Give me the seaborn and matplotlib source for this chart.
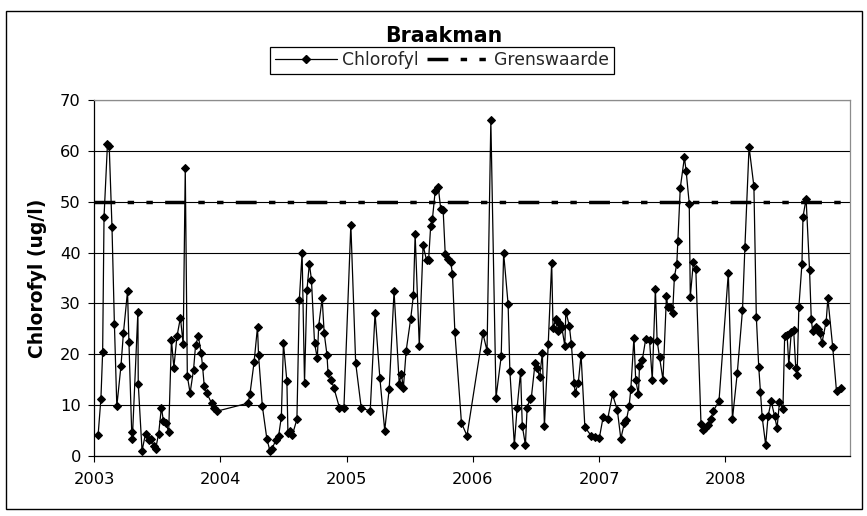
import numpy as np
import pandas as pd
import matplotlib
matplotlib.use("Agg")
import matplotlib.pyplot as plt
from matplotlib.lines import Line2D
from matplotlib.patches import Rectangle
import seaborn as sns

# Sample days (day of year) and chlorophyll concentration (ug/l) per year
doy_2003 = [13, 21, 26, 30, 40, 45, 53, 60, 67, 79, 86, 98, 102, 110, 112, 128, 129, 140, 150, 160,
            167, 174, 179, 188, 196, 202, 209, 217, 225, 232, 241, 251, 259, 265, 271, 279, 289, 295,
            303, 311, 315, 320, 327, 341, 349, 356]
chl_2003 = [4.2, 11.3, 20.4, 47.0, 61.4, 60.9, 45.1, 26.0, 9.8, 17.7, 24.1, 32.4, 22.5, 4.8, 3.4,
            28.4, 14.2, 1.0, 4.4, 3.1, 3.3, 2.0, 1.3, 4.4, 9.5, 6.8, 6.5, 4.7, 22.8, 17.4, 23.5, 27.2,
            22.0, 56.6, 15.7, 12.4, 17.0, 21.9, 23.5, 20.2, 17.7, 13.7, 12.4, 10.4, 9.5, 8.8]

doy_2004 = [82, 87, 99, 109, 112, 123, 136, 145, 150, 162, 170, 178, 184, 194, 197, 204, 210, 223,
            230, 238, 245, 252, 259, 265, 274, 282, 286, 296, 302, 310, 313, 322, 330, 346, 359]
chl_2004 = [10.4, 12.1, 18.4, 25.4, 19.8, 9.8, 3.4, 1.0, 1.3, 3.1, 3.9, 7.7, 22.2, 14.7, 4.6, 4.9,
            4.2, 7.2, 30.7, 39.9, 14.4, 32.6, 37.8, 34.7, 22.2, 19.2, 25.6, 31.0, 24.1, 19.9, 16.3,
            15.0, 13.4, 9.5, 9.5]

doy_2005 = [13, 27, 43, 69, 83, 97, 111, 124, 138, 153, 159, 165, 173, 186, 194, 199, 211, 222,
            232, 238, 244, 249, 257, 266, 273, 280, 286, 295, 302, 307, 314, 333, 349]
chl_2005 = [45.5, 18.3, 9.5, 8.8, 28.1, 15.3, 5.0, 13.2, 32.4, 14.2, 16.2, 13.4, 20.7, 26.9, 31.6,
            43.6, 21.7, 41.4, 38.5, 38.6, 45.3, 46.6, 52.1, 52.8, 48.6, 48.4, 39.8, 38.8, 38.2, 35.7,
            24.3, 6.5, 4.0]

doy_2006 = [30, 42, 53, 68, 83, 90, 103, 108, 121, 129, 139, 144, 153, 158, 166, 170, 181, 187,
            194, 202, 208, 219, 229, 233, 241, 246, 251, 258, 267, 270, 280, 286, 294, 297, 306,
            314, 325, 343, 355]
chl_2006 = [24.1, 20.7, 66.0, 11.5, 19.6, 39.9, 29.8, 16.8, 2.2, 9.5, 16.5, 5.9, 2.2, 9.5, 11.2,
            11.4, 18.3, 17.4, 15.5, 20.2, 5.9, 22.0, 38.0, 25.1, 27.0, 24.5, 26.1, 25.4, 21.7, 28.4,
            25.6, 22.0, 14.4, 12.4, 14.4, 19.9, 5.7, 4.0, 3.8]

doy_2007 = [2, 13, 26, 40, 54, 64, 74, 80, 88, 93, 102, 107, 115, 118, 126, 136, 147, 155, 164,
            169, 176, 186, 196, 200, 207, 214, 219, 226, 229, 236, 248, 253, 262, 265, 274, 281,
            296, 301, 307, 317, 325, 331, 348]
chl_2007 = [3.6, 7.7, 7.3, 12.1, 9.0, 3.4, 6.4, 7.0, 9.8, 13.2, 23.3, 15.0, 12.1, 17.6, 18.8, 23.0,
            22.8, 15.0, 32.9, 22.7, 19.4, 15.0, 31.4, 29.2, 29.2, 28.2, 35.2, 37.8, 42.3, 52.7, 58.7,
            56.0, 49.6, 31.3, 38.2, 36.7, 6.2, 5.2, 5.5, 6.0, 7.2, 8.8, 10.8]

doy_2008 = [10, 22, 36, 51, 58, 70, 84, 91, 98, 103, 108, 118, 125, 134, 144, 151, 158, 168, 173,
            180, 185, 192, 199, 205, 209, 214, 223, 226, 235, 245, 250, 254, 264, 269, 274, 281,
            293, 298, 312, 323, 336]
chl_2008 = [36.0, 7.3, 16.4, 28.7, 41.1, 60.8, 53.0, 27.4, 17.5, 12.5, 7.6, 2.2, 7.8, 10.8, 7.8,
            5.5, 10.6, 9.3, 23.6, 23.8, 17.9, 24.3, 24.7, 17.4, 16.0, 29.2, 37.8, 47.0, 50.6, 36.5,
            26.9, 24.5, 25.4, 24.9, 24.1, 22.3, 26.4, 31.0, 21.4, 12.7, 13.4]

# Limit value for chlorophyll (ug/l) over the whole monitoring period
grens_dates = ["2003-01-01", "2008-12-27"]
grens_values = [50.0, 50.0]

years = [2003, 2004, 2005, 2006, 2007, 2008]
year_labels = ["2003", "2004", "2005", "2006", "2007", "2008"]
y_ticks = [0, 10, 20, 30, 40, 50, 60, 70]


def to_dates(year, days):
    return pd.Timestamp(f"{year}-01-01") + pd.to_timedelta(np.asarray(days) - 1, unit="D")


frames = []
for yr, days, vals in [(2003, doy_2003, chl_2003), (2004, doy_2004, chl_2004),
                       (2005, doy_2005, chl_2005), (2006, doy_2006, chl_2006),
                       (2007, doy_2007, chl_2007), (2008, doy_2008, chl_2008)]:
    frames.append(pd.DataFrame({"datum": to_dates(yr, days), "chlorofyl": vals}))
df = pd.concat(frames, ignore_index=True)
grens = pd.DataFrame({"datum": pd.to_datetime(grens_dates), "grenswaarde": grens_values})

sns.set_theme(style="white")
plt.rcParams["font.family"] = ["DejaVu Sans"]

W, H = 867, 516
fig = plt.figure(figsize=(W / 100, H / 100), dpi=100)
fig.patch.set_facecolor("white")
ax = fig.add_axes([94 / W, 1 - 456 / H, (850 - 94) / W, (456 - 100) / H])
ax.set_facecolor("white")

# long dash - dot - dot, lengths in multiples of the line width
limit_style = (0, (6.0, 3.55, 1.85, 3.55, 1.85, 3.55))
limit_lw = 2.5
sns.lineplot(data=grens, x="datum", y="grenswaarde", ax=ax, color="black", linewidth=limit_lw,
             linestyle=limit_style, estimator=None, sort=False, legend=False, zorder=3)
sns.lineplot(data=df, x="datum", y="chlorofyl", ax=ax, color="black", linewidth=0.9,
             marker="D", markersize=4.4, markeredgecolor="black", markerfacecolor="black",
             estimator=None, sort=False, legend=False, zorder=4)

ax.set_ylim(0, 70)
ax.set_yticks(y_ticks)
ax.set_xlim(pd.Timestamp(grens_dates[0]), pd.Timestamp(grens_dates[1]))
ax.set_xticks([pd.Timestamp(f"{y}-01-01") for y in years])
ax.set_xticklabels(year_labels)

ax.yaxis.grid(True, color="black", linewidth=0.8)
ax.xaxis.grid(False)
ax.set_axisbelow(True)

for side in ("left", "bottom"):
    ax.spines[side].set_color("black")
    ax.spines[side].set_linewidth(0.9)
for side in ("top", "right"):
    ax.spines[side].set_color("#8c8c8c")
    ax.spines[side].set_linewidth(0.9)

ax.tick_params(axis="both", direction="out", length=4.5, width=0.8, color="black",
               labelsize=11.7, labelcolor="black")
ax.tick_params(axis="y", pad=5)
ax.tick_params(axis="x", pad=7)
ax.tick_params(left=True, bottom=True)

ax.set_xlabel("")
ax.set_ylabel("Chlorofyl (ug/l)", fontsize=13.5, fontweight="bold", color="black")
ax.yaxis.set_label_coords((47 - 94) / (850 - 94), 0.5)

fig.text(444 / W, 1 - 42 / H, "Braakman", ha="center", va="baseline",
         fontsize=14.8, fontweight="bold", color="black")

handles = [
    Line2D([], [], color="black", linewidth=0.9, marker="D", markersize=4.4),
    Line2D([], [], color="black", linewidth=limit_lw, linestyle=limit_style),
]
leg = fig.legend(handles, ["Chlorofyl", "Grenswaarde"], loc="upper center",
                 bbox_to_anchor=(442 / W, 1 - 47 / H), ncol=2, frameon=True, fancybox=False,
                 edgecolor="black", framealpha=1, fontsize=12.4, handlelength=3.6,
                 handletextpad=0.3, columnspacing=0.5, borderpad=0.25, borderaxespad=0)
leg.get_frame().set_linewidth(0.9)

fig.add_artist(Rectangle((6 / W, 1 - 509 / H), (862 - 6) / W, (509 - 11) / H,
                         transform=fig.transFigure, fill=False, edgecolor="black",
                         linewidth=1.0))

fig.savefig("out.png", dpi=100)
